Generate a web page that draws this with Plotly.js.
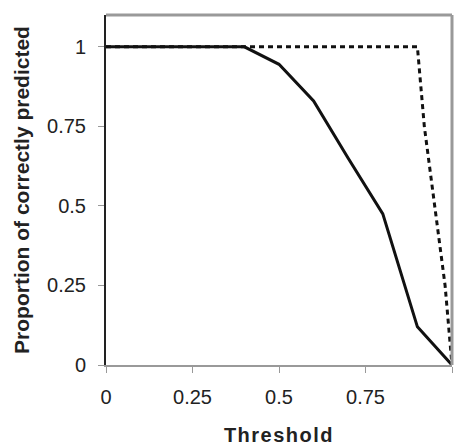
<!DOCTYPE html>
<html>
<head>
<meta charset="utf-8">
<script src="https://cdn.plot.ly/plotly-3.0.1.min.js"></script>
<style>
html,body{margin:0;padding:0;background:#fff;}
#chart{width:454px;height:446px;}
.xtitle{letter-spacing:1.5px;}
</style>
</head>
<body>
<div id="chart"></div>
<script>
// Data
var thresholdSolid = [0, 0.1, 0.2, 0.3, 0.4, 0.5, 0.6, 0.7, 0.8, 0.9, 1];
var proportionSolid = [1, 1, 1, 1, 1, 0.945, 0.83, 0.65, 0.475, 0.12, 0];

var thresholdDashed = [0, 0.1, 0.2, 0.3, 0.4, 0.5, 0.6, 0.7, 0.8, 0.9, 0.92, 0.95, 0.98, 1];
var proportionDashed = [1, 1, 1, 1, 1, 1, 1, 1, 1, 1, 0.75, 0.5, 0.25, 0];

var tickValues = [0, 0.25, 0.5, 0.75, 1];
var tickLabels = ['0', '0.25', '0.5', '0.75', '1'];

var fontFam = 'Arial, "Liberation Sans", sans-serif';

var traces = [
  {
    x: thresholdDashed, y: proportionDashed, mode: 'lines', type: 'scatter',
    line: {color: '#111', width: 3, dash: '5px,4px'}, hoverinfo: 'none'
  },
  {
    x: thresholdSolid, y: proportionSolid, mode: 'lines', type: 'scatter',
    line: {color: '#111', width: 3}, hoverinfo: 'none'
  }
];

var layout = {
  width: 454, height: 446,
  margin: {l: 106, r: 2, t: 15, b: 81},
  paper_bgcolor: '#fff', plot_bgcolor: '#fff',
  showlegend: false,
  font: {family: fontFam, color: '#222'},
  xaxis: {
    range: [0, 1], tickvals: tickValues, ticktext: tickLabels,
    showgrid: false, zeroline: false,
    showline: true, linecolor: '#999', linewidth: 2,
    ticks: 'outside', ticklen: 6, tickcolor: '#999', tickwidth: 1,
    tickfont: {size: 20, family: fontFam, color: '#222'},
    ticklabelstandoff: 7,
    title: {text: 'Threshold', font: {size: 20, family: fontFam, color: '#222', weight: 'bold'}, standoff: 22}
  },
  yaxis: {
    range: [0, 1.1], tickvals: tickValues, ticktext: tickLabels,
    showgrid: false, zeroline: false,
    showline: true, linecolor: '#222', linewidth: 2,
    ticks: 'outside', ticklen: 6, tickcolor: '#999', tickwidth: 1,
    tickfont: {size: 20, family: fontFam, color: '#222'},
    ticklabelstandoff: 8,
    title: {text: 'Proportion of correctly predicted', font: {size: 21, family: fontFam, color: '#222', weight: 'bold'}, standoff: 12}
  },
  shapes: [
    {type: 'line', xref: 'x domain', yref: 'y domain', x0: 0, x1: 1, y0: 1, y1: 1, line: {color: '#999', width: 3}},
    {type: 'line', xref: 'x domain', yref: 'y domain', x0: 1, x1: 1, y0: 0, y1: 1, line: {color: '#999', width: 3}}
  ]
};

Plotly.newPlot('chart', traces, layout, {staticPlot: true, displayModeBar: false});
</script>
</body>
</html>
